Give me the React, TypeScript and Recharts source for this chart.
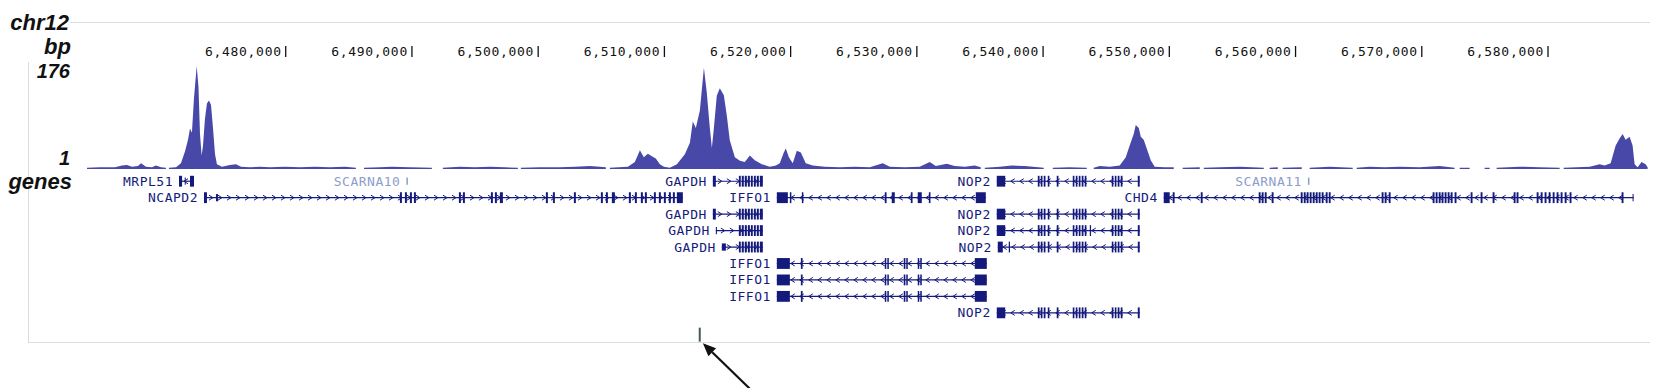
import React from "react";
import { AreaChart, Area, ComposedChart, XAxis, YAxis, ReferenceLine, ReferenceArea } from "recharts";

// window: chr12 (hg18)
const X_MIN = 6464100;
const X_MAX = 6588000;
const RULER_TICKS = [6480000, 6490000, 6500000, 6510000, 6520000, 6530000, 6540000, 6550000, 6560000, 6570000, 6580000];
const SCALE_BAR = [6501300, 6551300];
const SIGNAL_TICKS = [1, 176];

// coverage track, [position, value]; null = no data
const SIGNAL: [number, number | null][] = [
  [6464260, 2], [6465290, 3], [6466480, 3], [6467030, 6], [6467430, 7], [6467820, 4], [6468300, 5], [6468540, 10],
  [6468930, 4], [6469410, 3], [6469720, 6], [6470120, 3], [6470510, 2], [6470630, null],
  [6470750, 2], [6471310, 3], [6471700, 10], [6472020, 30], [6472260, 50], [6472420, 69], [6472570, 62], [6472730, 120],
  [6472950, 176], [6473090, 140], [6473210, 60], [6473340, 23], [6473450, 40], [6473600, 85], [6473760, 112], [6473920, 117],
  [6474080, 110], [6474240, 70], [6474400, 25], [6474550, 8], [6474950, 4], [6475580, 7], [6476060, 8], [6476460, 4],
  [6477170, 3], [6477960, 4], [6478750, 3], [6479940, 4], [6481130, 3], [6482320, 4], [6483500, 3], [6484690, 4],
  [6485560, 2], [6485880, null],
  [6486200, 2], [6487460, 3], [6488410, 4], [6489840, 3], [6491580, 2], [6492020, null],
  [6492450, 2], [6493800, 4], [6494990, 3], [6496180, 4], [6497360, 3], [6498390, 2], [6498510, null],
  [6498630, 2], [6500140, 3], [6501720, 3], [6502910, 4], [6504100, 5], [6504890, 4], [6505360, 3], [6505520, null],
  [6505680, 2], [6507110, 4], [6507660, 12], [6508060, 32], [6508370, 20], [6508690, 26], [6509010, 22], [6509320, 18],
  [6509640, 8], [6509960, 4], [6510430, 2], [6510990, 8], [6511620, 25], [6512020, 45], [6512250, 81], [6512490, 70],
  [6512810, 100], [6513130, 173], [6513360, 130], [6513600, 70], [6513760, 36], [6513920, 70], [6514150, 125], [6514390, 138],
  [6514710, 126], [6514950, 90], [6515180, 49], [6515580, 20], [6515980, 14], [6516370, 12], [6516770, 23], [6517160, 15],
  [6517720, 8], [6518350, 4], [6518830, 6], [6519140, 10], [6519460, 28], [6519620, 35], [6519860, 20], [6520170, 10],
  [6520490, 31], [6520810, 28], [6521200, 10], [6521760, 6], [6522710, 4], [6523900, 3], [6525080, 4], [6526270, 3],
  [6527300, 10], [6527860, 4], [6529040, 3], [6530230, 4], [6531020, 12], [6531500, 5], [6532370, 9], [6533000, 5],
  [6533800, 4], [6534590, 6], [6535060, 3], [6535220, null],
  [6535380, 2], [6536570, 4], [6537520, 6], [6538550, 5], [6540050, 2], [6540400, null],
  [6540770, 2], [6542110, 3], [6543460, 2], [6543740, null],
  [6544010, 2], [6544490, 5], [6545280, 4], [6546070, 6], [6546550, 20], [6546860, 40], [6547180, 60], [6547340, 75],
  [6547580, 70], [6547740, 55], [6547970, 50], [6548210, 35], [6548530, 15], [6548840, 4], [6549640, 3], [6550350, 3],
  [6550700, null],
  [6551060, 2], [6552410, 3], [6552570, null],
  [6552730, 2], [6553990, 3], [6555580, 4], [6557480, 2], [6557720, null],
  [6557950, 2], [6558590, 3], [6558790, null],
  [6558980, 2], [6560490, 3], [6560800, null],
  [6561120, 2], [6562700, 4], [6564530, 2], [6564690, null],
  [6564840, 2], [6565870, 4], [6567060, 3], [6568250, 4], [6569830, 3], [6571420, 5], [6572600, 2], [6572800, null],
  [6573000, 2], [6573790, 2], [6574400, null],
  [6574980, 2], [6575380, 2], [6575650, null],
  [6575930, 2], [6577750, 4], [6579340, 3], [6580920, 2], [6581080, null],
  [6581240, 2], [6583300, 4], [6584090, 8], [6584480, 6], [6584960, 10], [6585360, 40], [6585670, 52], [6585910, 60],
  [6586150, 50], [6586460, 55], [6586700, 40], [6586860, 8], [6587100, 3], [6587410, 12], [6587730, 8], [6587890, 3],
];

// exons: [start, end, halfHeight?]
type Exon = [number, number, number?];
const MRPL51_EXONS: Exon[] = [[6471545, 6471790], [6472000, 6472080, 0.22], [6472420, 6472733]];
const SCARNA10_EXONS: Exon[] = [[6489560, 6489680, 0.22]];
const SCARNA11_EXONS: Exon[] = [[6560980, 6561100, 0.22]];
const GAPDH_A: Exon[] = [
  [6513838, 6514075], [6515900, 6516050], [6516130, 6516290], [6516370, 6516530], [6516610, 6516770],
  [6516850, 6517000], [6517090, 6517240], [6517320, 6517480], [6517560, 6517798],
];
const GAPDH_B: Exon[] = [[6514075, 6514160, 0.22], ...GAPDH_A.slice(1)];
const GAPDH_C: Exon[] = [[6514550, 6514870, 0.22], ...GAPDH_A.slice(1)];
const NCAPD2_EXONS: Exon[] = [
  [6473525, 6473762], [6474475, 6474634, 0.22], [6489048, 6489206], [6489444, 6489602], [6489840, 6489998], [6490157, 6490315],
  [6493721, 6493879], [6494038, 6494196], [6496255, 6496414], [6496572, 6496730], [6496968, 6497206], [6500611, 6500770],
  [6501166, 6501324], [6502829, 6502987], [6504967, 6505126], [6505363, 6505522], [6505838, 6506076], [6507185, 6507343],
  [6507660, 6507818], [6508135, 6508294], [6508452, 6508610], [6509165, 6509323], [6509561, 6509719], [6509957, 6510115],
  [6510353, 6510511], [6510670, 6510828], [6510986, 6511462],
];
const IFFO1_A: Exon[] = [
  [6518906, 6519780], [6519940, 6520060], [6520890, 6521010], [6527460, 6527600], [6528010, 6528250],
  [6529520, 6529660], [6530070, 6530390], [6530950, 6531080], [6534670, 6535460],
];
const IFFO1_B: Exon[] = [
  [6518906, 6519940], [6520810, 6520950], [6527460, 6527580], [6527660, 6527780], [6528960, 6529090],
  [6529160, 6529280], [6530070, 6530190], [6530270, 6530390], [6534590, 6535540],
];
const NOP2_TAIL: Exon[] = [
  [6539580, 6539720], [6539815, 6539950], [6540050, 6540190], [6540370, 6540500], [6541080, 6541220], [6542350, 6542480],
  [6542590, 6542720], [6542825, 6542960], [6543060, 6543200], [6543300, 6543430], [6545440, 6545570], [6545680, 6545810],
  [6545910, 6546050], [6546150, 6546290], [6547500, 6547656],
];
const NOP2_A: Exon[] = [[6536330, 6537000], ...NOP2_TAIL];
const NOP2_B: Exon[] = [[6536330, 6537000], ...NOP2_TAIL, [6543700, 6543800]].sort((a, b) => a[0] - b[0]) as Exon[];
const NOP2_C: Exon[] = [[6536410, 6536810], [6537280, 6537380], ...NOP2_TAIL];
const CHD4_EXONS: Exon[] = [
  [6549557, 6550030], [6550270, 6550420], [6552490, 6552640], [6557080, 6557230], [6557320, 6557470], [6557560, 6557710],
  [6558110, 6558260], [6560410, 6560560], [6560650, 6560800], [6560880, 6561030], [6561120, 6561270], [6561360, 6561510],
  [6561600, 6561750], [6561830, 6561980], [6562070, 6562220], [6562390, 6562540], [6562630, 6562780], [6566820, 6566970],
  [6567060, 6567210], [6567380, 6567530], [6570860, 6571010], [6571100, 6571250], [6571340, 6571490], [6571570, 6571720],
  [6571810, 6571960], [6572050, 6572200], [6572290, 6572440], [6572600, 6572750], [6573870, 6574020], [6574660, 6574810],
  [6575610, 6575760], [6577280, 6577430], [6577510, 6577660], [6579100, 6579250], [6579420, 6579570], [6579730, 6579880],
  [6580050, 6580200], [6580370, 6580520], [6580680, 6580830], [6581000, 6581150], [6581320, 6581470], [6581710, 6581860],
  [6585830, 6585980], [6586700, 6586781, 0.22],
];

type Tx = { name: string; row: number; strand: number; exons: Exon[]; light?: boolean };
const TRANSCRIPTS: Tx[] = [
  { name: "MRPL51", row: 1, strand: -1, exons: MRPL51_EXONS },
  { name: "SCARNA10", row: 1, strand: 0, exons: SCARNA10_EXONS, light: true },
  { name: "GAPDH", row: 1, strand: 1, exons: GAPDH_A },
  { name: "NOP2", row: 1, strand: -1, exons: NOP2_A },
  { name: "SCARNA11", row: 1, strand: 0, exons: SCARNA11_EXONS, light: true },
  { name: "NCAPD2", row: 2, strand: 1, exons: NCAPD2_EXONS },
  { name: "IFFO1", row: 2, strand: -1, exons: IFFO1_A },
  { name: "CHD4", row: 2, strand: -1, exons: CHD4_EXONS },
  { name: "GAPDH", row: 3, strand: 1, exons: GAPDH_A },
  { name: "NOP2", row: 3, strand: -1, exons: NOP2_A },
  { name: "GAPDH", row: 4, strand: 1, exons: GAPDH_B },
  { name: "NOP2", row: 4, strand: -1, exons: NOP2_B },
  { name: "GAPDH", row: 5, strand: 1, exons: GAPDH_C },
  { name: "NOP2", row: 5, strand: -1, exons: NOP2_C },
  { name: "IFFO1", row: 6, strand: -1, exons: IFFO1_B },
  { name: "IFFO1", row: 7, strand: -1, exons: IFFO1_B },
  { name: "IFFO1", row: 8, strand: -1, exons: IFFO1_B },
  { name: "NOP2", row: 9, strand: -1, exons: NOP2_A },
];

// position marker + arrow under the gene track
const MARKER_POS = 6512800;
const ARROW_TIP = { x: 6513050, y: 10.85 };
const ARROW_TAIL = { x: 6516750, y: 13.6 };

const SIGNAL_COLOR = "#4848a8";
const GENE_COLOR = "#141a7c";
const LIGHT_COLOR = "#8d9dcc";
const FRAME = "#dcdcdc";
const MONO = "'DejaVu Sans Mono', monospace";
const SANS = "'Liberation Sans', Arial, sans-serif";

const W = 1674;
const MARGIN = { top: 0, right: 25, bottom: 0, left: 85 };
const LIMITS = [{ pos: X_MIN }, { pos: X_MAX }];

const signalData = SIGNAL.map(([pos, v]) => ({ pos, v }));

function RulerTick(p: any) {
  const { x, y, payload } = p;
  return (
    <g>
      <text x={x - 4} y={y + 12} textAnchor="end" fill="#111" fontFamily={MONO} fontSize={13} letterSpacing={0.7}>
        {Number(payload.value).toLocaleString("en-US")}
      </text>
      <line x1={x} x2={x} y1={y + 2} y2={y + 13} stroke="#111" strokeWidth={1.3} />
    </g>
  );
}

function SignalTick(p: any) {
  const { x, y, payload } = p;
  const top = payload.value === SIGNAL_TICKS[1];
  return (
    <text x={x} y={top ? y + 12 : y - 3} textAnchor="end" fill="#111" fontFamily={SANS} fontWeight="bold" fontStyle="italic" fontSize={20}>
      {payload.value}
    </text>
  );
}

function ScaleBar(p: any) {
  const { x1, y1, x2 } = p;
  return (
    <g>
      <line x1={x1} x2={x2} y1={y1} y2={y1} stroke="#3a3a3a" strokeWidth={2} />
      <line x1={x1} x2={x1} y1={y1 - 3} y2={y1 + 10} stroke="#3a3a3a" strokeWidth={1.5} />
      <line x1={x2} x2={x2} y1={y1 - 6} y2={y1 + 10} stroke="#3a3a3a" strokeWidth={1.5} />
      <text x={x1 - 7} y={y1 + 5} textAnchor="end" fill="#111" fontFamily={MONO} fontSize={13} letterSpacing={0.7}>50 kb</text>
      <text x={x2 + 12} y={y1 + 4} fill="#111" fontFamily={MONO} fontSize={13} letterSpacing={0.7}>hg18</text>
    </g>
  );
}

function TranscriptLine(p: any & { t: Tx }) {
  const { x1, y1, x2, t } = p;
  const color = t.light ? LIGHT_COLOR : GENE_COLOR;
  const marks: React.ReactNode[] = [];
  if (t.strand !== 0) {
    const d = 2 * t.strand;
    for (let cx = x1 + 7; cx < x2 - 4; cx += 9) {
      marks.push(
        <polyline key={cx} points={`${cx - d},${y1 - 2.5} ${cx + d},${y1} ${cx - d},${y1 + 2.5}`} fill="none" stroke={color} strokeWidth={1} />
      );
    }
  }
  return (
    <g>
      {t.strand !== 0 && <line x1={x1} x2={x2} y1={y1} y2={y1} stroke={color} strokeWidth={1.2} />}
      {marks}
      <text x={x1 - 6} y={y1 + 4.5} textAnchor="end" fill={color} fontFamily={MONO} fontSize={13} letterSpacing={0.5}>
        {t.name}
      </text>
    </g>
  );
}

function Arrow(p: any) {
  const { x1, y1, x2, y2 } = p;
  const a = Math.atan2(y1 - y2, x1 - x2);
  const bx = x1 - 13 * Math.cos(a);
  const by = y1 - 13 * Math.sin(a);
  const px = -Math.sin(a) * 5.5;
  const py = Math.cos(a) * 5.5;
  return (
    <g>
      <line x1={bx} y1={by} x2={x2} y2={y2} stroke="#111" strokeWidth={2.2} />
      <polygon points={`${x1},${y1} ${bx + px},${by + py} ${bx - px},${by - py}`} fill="#111" />
    </g>
  );
}

export default function App() {
  return (
    <div style={{ position: "absolute", left: 0, top: 0, width: W, height: 388, background: "#fff", overflow: "hidden" }}>
      {/* frame */}
      <div style={{ position: "absolute", left: 70, top: 22, width: 1580, height: 0, borderTop: `1px solid ${FRAME}` }} />
      <div style={{ position: "absolute", left: 28, top: 62, width: 0, height: 280, borderLeft: `1px solid ${FRAME}` }} />
      <div style={{ position: "absolute", left: 28, top: 342, width: 1622, height: 0, borderTop: `1px solid ${FRAME}` }} />

      {/* ruler */}
      <div style={{ position: "absolute", left: 0, top: 0 }}>
        <ComposedChart width={W} height={64} data={LIMITS} margin={{ ...MARGIN, top: 22 }}>
          <XAxis dataKey="pos" type="number" domain={[X_MIN, X_MAX]} allowDataOverflow ticks={RULER_TICKS} interval={0}
            tick={RulerTick} tickSize={0} tickMargin={0} axisLine={false} tickLine={false} height={20} />
          <YAxis type="number" domain={[0, 1]} hide />
          <ReferenceLine segment={[{ x: SCALE_BAR[0], y: 0.5 }, { x: SCALE_BAR[1], y: 0.5 }]} shape={ScaleBar} ifOverflow="visible" />
        </ComposedChart>
      </div>

      {/* coverage */}
      <div style={{ position: "absolute", left: 0, top: 56 }}>
        <AreaChart width={W} height={113} data={signalData} margin={{ ...MARGIN, left: 0, top: 10 }}>
          <XAxis dataKey="pos" type="number" domain={[X_MIN, X_MAX]} allowDataOverflow hide />
          <YAxis type="number" domain={[0, 176]} ticks={SIGNAL_TICKS} interval={0} width={85} tickSize={0} tickMargin={15}
            axisLine={false} tickLine={false} tick={SignalTick} />
          <Area dataKey="v" type="linear" stroke="none" fill={SIGNAL_COLOR} fillOpacity={1} baseValue={0}
            connectNulls={false} isAnimationActive={false} />
        </AreaChart>
      </div>

      {/* genes */}
      <div style={{ position: "absolute", left: 0, top: 173 }}>
        <ComposedChart width={W} height={216} data={LIMITS} margin={MARGIN}>
          <XAxis dataKey="pos" type="number" domain={[X_MIN, X_MAX]} allowDataOverflow hide />
          <YAxis type="number" domain={[0.5, 13.63]} reversed allowDataOverflow hide />
          {TRANSCRIPTS.map((t, i) => (
            <ReferenceLine key={`l${i}`} ifOverflow="visible"
              segment={[{ x: t.exons[0][0], y: t.row }, { x: t.exons[t.exons.length - 1][1], y: t.row }]}
              shape={(p: any) => <TranscriptLine {...p} t={t} />} />
          ))}
          {TRANSCRIPTS.flatMap((t, i) =>
            t.exons.map((e, j) => {
              const h = e[2] ?? 0.33;
              return (
                <ReferenceArea key={`e${i}-${j}`} x1={e[0]} x2={e[1]} y1={t.row - h} y2={t.row + h} ifOverflow="visible"
                  fill={t.light ? LIGHT_COLOR : GENE_COLOR} fillOpacity={1} stroke="none" />
              );
            })
          )}
          <ReferenceLine segment={[{ x: MARKER_POS, y: 9.9 }, { x: MARKER_POS, y: 10.75 }]} stroke="#46595a" strokeWidth={2} ifOverflow="visible" />
          <ReferenceLine segment={[ARROW_TIP, ARROW_TAIL]} shape={Arrow} ifOverflow="visible" />
        </ComposedChart>
      </div>

      {/* track labels */}
      <svg width={90} height={200} style={{ position: "absolute", left: 0, top: 0 }}>
        <g fontFamily={SANS} fontWeight="bold" fontStyle="italic" fill="#111" textAnchor="end">
          <text x={69} y={30} fontSize={22}>chr12</text>
          <text x={71} y={54} fontSize={22}>bp</text>
          <text x={72} y={189} fontSize={22}>genes</text>
        </g>
      </svg>
    </div>
  );
}
